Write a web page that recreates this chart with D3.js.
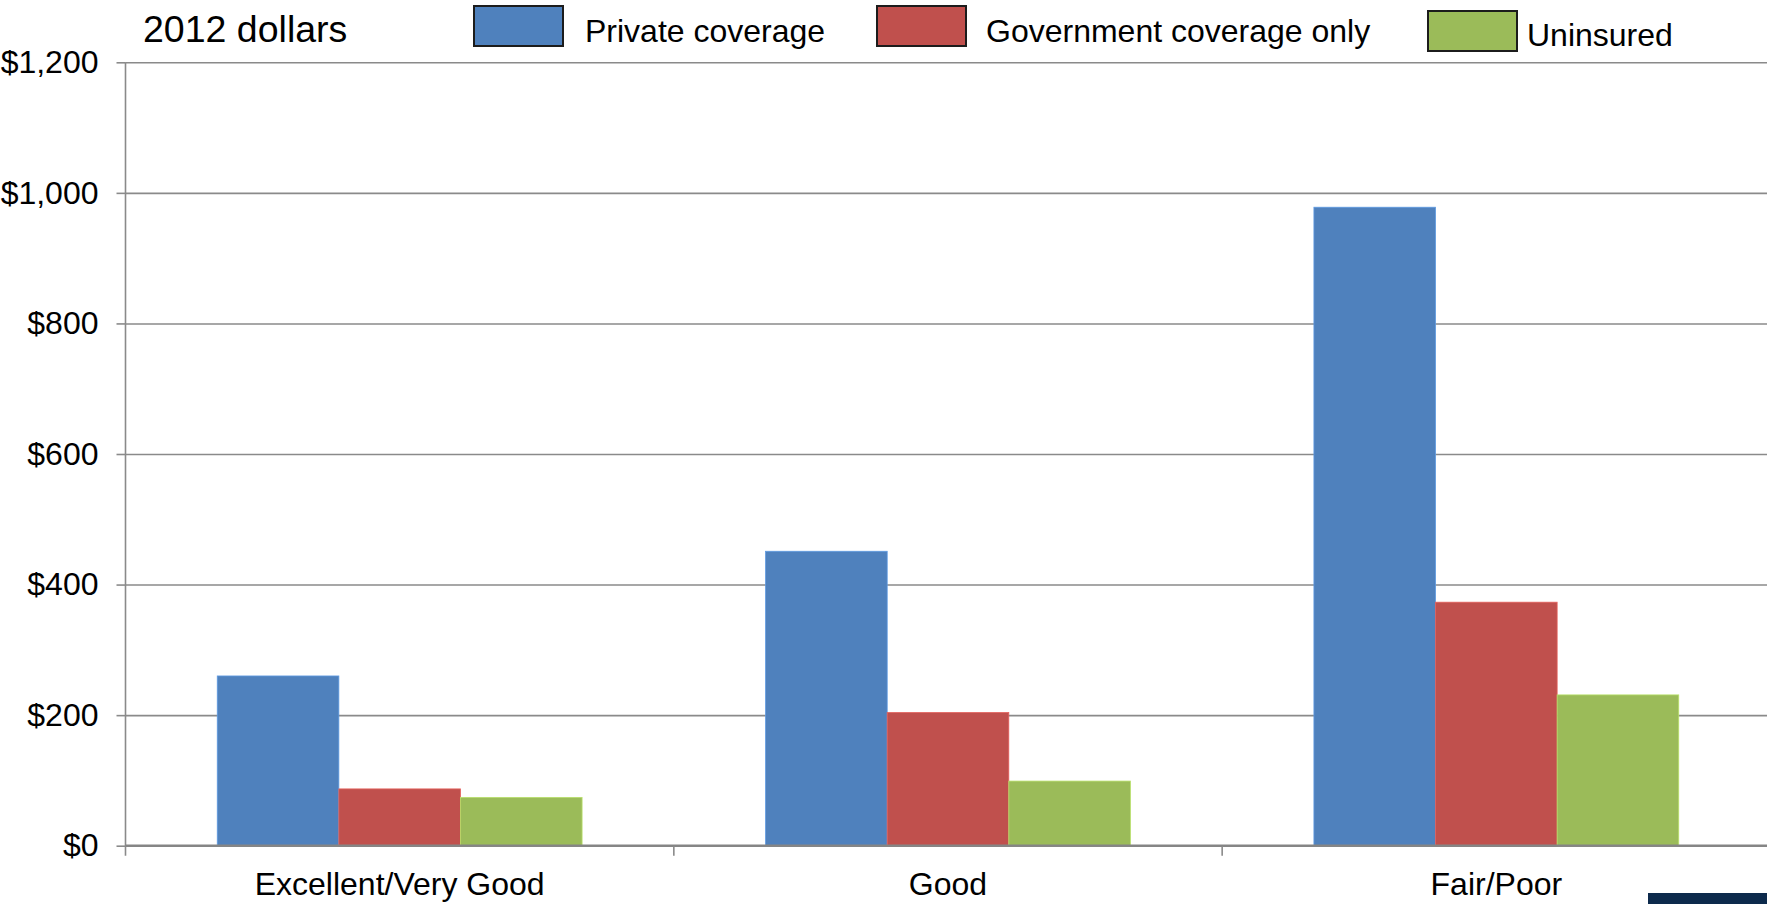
<!DOCTYPE html>
<html>
<head>
<meta charset="utf-8">
<script src="https://cdn.jsdelivr.net/npm/d3@7"></script>
<style>
  html, body { margin: 0; padding: 0; background: #fff; overflow: hidden; }
  svg { display: block; font-family: "Liberation Sans", Arial, sans-serif; }
</style>
</head>
<body>
<svg id="chart" width="1767" height="904"></svg>
<script>
const categories = ["Excellent/Very Good", "Good", "Fair/Poor"];
const seriesNames = ["Private coverage", "Government coverage only", "Uninsured"];
const privateValues = [260, 451, 978];
const governmentValues = [87, 204, 373];
const uninsuredValues = [74, 99, 231];
const yTicks = [0, 200, 400, 600, 800, 1000, 1200];
const colors = ["#4f81bd", "#c0504d", "#9bbb59"];
const unitLabel = "2012 dollars";

const seriesValues = [privateValues, governmentValues, uninsuredValues];

const svg = d3.select("#chart");
const W = 1767, H = 904;
const plotLeft = 125.5, plotRight = 1770.5, plotTop = 62.3, plotBottom = 845.7;

const x0 = d3.scaleBand().domain(categories).range([plotLeft, plotRight]).paddingInner(0).paddingOuter(0);
const x1 = d3.scaleBand().domain(seriesNames).range([0, x0.bandwidth()]).paddingInner(0).paddingOuter(0.7545);
const y = d3.scaleLinear().domain([0, 1200]).range([plotBottom, plotTop]);

// gridlines
const grid = svg.append("g").attr("transform", `translate(${plotLeft},0)`)
  .call(d3.axisRight(y).tickValues(yTicks).tickSize(W - plotLeft).tickFormat(""));
grid.select(".domain").remove();
grid.selectAll(".tick line").attr("stroke", "#8a8a8a").attr("stroke-width", 1.6);

// bars
const groups = svg.append("g").selectAll("g")
  .data(categories)
  .join("g")
  .attr("transform", d => `translate(${x0(d)},0)`);

groups.selectAll("rect")
  .data((c, ci) => seriesNames.map((s, si) => ({ s, si, v: seriesValues[si][ci] })))
  .join("rect")
  .attr("x", d => x1(d.s))
  .attr("width", x1.bandwidth())
  .attr("y", d => y(d.v))
  .attr("height", d => y(0) - y(d.v))
  .attr("fill", d => colors[d.si])
  .attr("stroke", d => d3.color(colors[d.si]).brighter(0.5))
  .attr("stroke-width", 0.8);

// y axis
const yAxis = svg.append("g").attr("transform", `translate(${plotLeft},0)`)
  .call(d3.axisLeft(y).tickValues(yTicks).tickSize(9).tickPadding(18)
    .tickFormat(d => "$" + d3.format(",")(d)));
yAxis.select(".domain").remove();
yAxis.selectAll(".tick line").attr("stroke", "#8a8a8a").attr("stroke-width", 1.6);
yAxis.selectAll("text").attr("font-size", 32).attr("fill", "#000")
  .attr("font-family", "Liberation Sans, Arial, sans-serif");
svg.append("line")
  .attr("x1", plotLeft).attr("x2", plotLeft).attr("y1", y(1200)).attr("y2", y(0) + 10)
  .attr("stroke", "#8a8a8a").attr("stroke-width", 1.6);

// x axis baseline
svg.append("line")
  .attr("x1", plotLeft).attr("x2", W).attr("y1", y(0)).attr("y2", y(0))
  .attr("stroke", "#858585").attr("stroke-width", 2.2);

// category boundary ticks
svg.append("g").selectAll("line")
  .data(categories.slice(1))
  .join("line")
  .attr("x1", d => x0(d)).attr("x2", d => x0(d))
  .attr("y1", y(0)).attr("y2", y(0) + 10)
  .attr("stroke", "#8a8a8a").attr("stroke-width", 1.6);

// category labels
const xAxis = svg.append("g").attr("transform", `translate(0,${y(0)})`)
  .call(d3.axisBottom(x0).tickSize(0));
xAxis.select(".domain").remove();
xAxis.selectAll("text").attr("font-size", 32).attr("fill", "#000")
  .attr("y", 49).attr("dy", 0)
  .attr("font-family", "Liberation Sans, Arial, sans-serif");

// unit label
svg.append("text").attr("x", 143).attr("y", 42)
  .attr("font-size", 37.5).attr("fill", "#000").text(unitLabel);

// legend
const legendItems = [
  { bx: 474, by: 6, tx: 585, ty: 41.7 },
  { bx: 877, by: 6, tx: 986, ty: 41.7 },
  { bx: 1428, by: 11, tx: 1527, ty: 46 }
];
const legend = svg.append("g").selectAll("g")
  .data(seriesNames)
  .join("g");
legend.append("rect")
  .attr("x", (d, i) => legendItems[i].bx)
  .attr("y", (d, i) => legendItems[i].by)
  .attr("width", 89).attr("height", 40)
  .attr("fill", (d, i) => colors[i])
  .attr("stroke", "#1c1c1c").attr("stroke-width", 2);
legend.append("text")
  .attr("x", (d, i) => legendItems[i].tx)
  .attr("y", (d, i) => legendItems[i].ty)
  .attr("font-size", 32).attr("fill", "#000")
  .text(d => d);

// bottom-right corner block (cropped footer element)
svg.append("rect").attr("x", 1648).attr("y", 893).attr("width", 130).attr("height", 20)
  .attr("fill", "#0d2a4c");
</script>
</body>
</html>
